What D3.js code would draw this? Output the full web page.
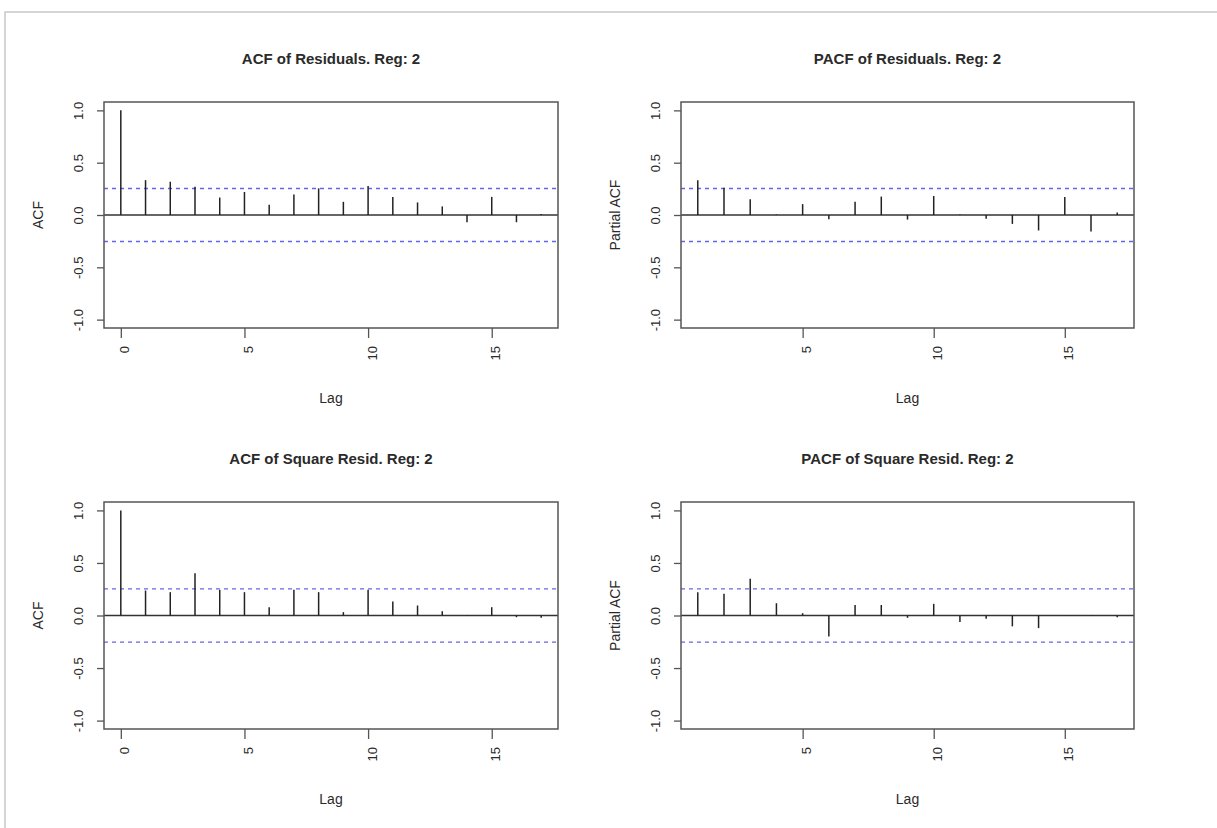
<!DOCTYPE html>
<html lang="en">
<head>
<meta charset="UTF-8">
<title>ACF / PACF of residuals</title>
<script src="https://d3js.org/d3.v7.min.js"></script>
<style>
  body { margin: 0; background: #fff; }
  text { font-family: "Liberation Sans", Arial, sans-serif; fill: #2a2a2a; }
</style>
</head>
<body>
<div id="fig"></div>
<script>
// values
let titles = ["ACF of Residuals. Reg: 2", "PACF of Residuals. Reg: 2",
              "ACF of Square Resid. Reg: 2", "PACF of Square Resid. Reg: 2"]
let ylabels = ["ACF", "Partial ACF", "ACF", "Partial ACF"]
let acfLags = d3.range(0, 18)
let pacfLags = d3.range(1, 18)
let acfResid = [1.0, 0.333, 0.318, 0.27, 0.167, 0.22, 0.097, 0.195, 0.255, 0.126, 0.277, 0.173, 0.12, 0.082, -0.069, 0.173, -0.069, 0.01]
let pacfResid = [0.333, 0.26, 0.15, 0.005, 0.104, -0.04, 0.126, 0.176, -0.044, 0.182, 0.004, -0.035, -0.085, -0.148, 0.173, -0.157, 0.025]
let acfSq = [1.0, 0.238, 0.222, 0.403, 0.244, 0.222, 0.079, 0.244, 0.222, 0.032, 0.244, 0.133, 0.095, 0.041, 0.005, 0.079, -0.016, -0.022]
let pacfSq = [0.222, 0.206, 0.349, 0.117, 0.022, -0.2, 0.1, 0.1, -0.022, 0.111, -0.063, -0.032, -0.103, -0.12, 0.003, -0.005, -0.016]
let confBand = 0.253
let yTicks = [-1.0, -0.5, 0.0, 0.5, 1.0]
let xTicksAcf = [0, 5, 10, 15]
let xTicksPacf = [5, 10, 15]

let W = 1217, H = 828
let svg = d3.select("#fig").append("svg").attr("width", W).attr("height", H)

// faint frame round the whole image
svg.append("path").attr("d", `M5,${H} L5,12 L${W},12`)
    .attr("fill", "none").attr("stroke", "#c8c8c8").attr("stroke-width", 1.5)

let panels = [
    {lags: acfLags, vals: acfResid, ticks: xTicksAcf, x0: 104, x1: 558, y0: 102, y1: 328},
    {lags: pacfLags, vals: pacfResid, ticks: xTicksPacf, x0: 681, x1: 1134, y0: 102, y1: 328},
    {lags: acfLags, vals: acfSq, ticks: xTicksAcf, x0: 104, x1: 558, y0: 502, y1: 729},
    {lags: pacfLags, vals: pacfSq, ticks: xTicksPacf, x0: 681, x1: 1134, y0: 502, y1: 729}
]

function drawPanel(p, i) {
    let lo = d3.min(p.lags), hi = d3.max(p.lags)
    let pad = (hi - lo) * 0.04
    let x = d3.scaleLinear().domain([lo - pad, hi + pad]).range([p.x0, p.x1])
    let y = d3.scaleLinear().domain([-1.08, 1.08]).range([p.y1, p.y0])
    let g = svg.append("g")

    // dashed confidence bands
    g.selectAll("line.band").data([confBand, -confBand]).join("line")
        .attr("x1", p.x0).attr("x2", p.x1)
        .attr("y1", d => y(d)).attr("y2", d => y(d))
        .attr("stroke", "#6464ea").attr("stroke-width", 1.4)
        .attr("stroke-dasharray", "4,4")

    // zero line
    g.append("line").attr("x1", p.x0).attr("x2", p.x1)
        .attr("y1", y(0)).attr("y2", y(0))
        .attr("stroke", "#333").attr("stroke-width", 1.3)

    // spikes
    g.selectAll("line.spike").data(p.lags).join("line")
        .attr("x1", d => x(d)).attr("x2", d => x(d))
        .attr("y1", y(0)).attr("y2", (d, k) => y(p.vals[k]))
        .attr("stroke", "#222").attr("stroke-width", 1.5)

    // box
    g.append("rect").attr("x", p.x0).attr("y", p.y0)
        .attr("width", p.x1 - p.x0).attr("height", p.y1 - p.y0)
        .attr("fill", "none").attr("stroke", "#555").attr("stroke-width", 1.5)

    // y axis
    let ya = g.append("g").attr("transform", `translate(${p.x0},0)`)
        .call(d3.axisLeft(y).tickValues(yTicks).tickSize(7).tickFormat(d => d.toFixed(1)))
    ya.select(".domain").remove()
    ya.selectAll(".tick line").attr("stroke", "#555").attr("stroke-width", 1.3)
    ya.selectAll(".tick text")
        .attr("transform", "rotate(-90)").attr("x", 0).attr("y", -21)
        .attr("dy", 0).attr("text-anchor", "middle")
        .style("font-size", "13px").style("font-family", "Liberation Sans, Arial, sans-serif")

    // x axis
    let xa = g.append("g").attr("transform", `translate(0,${p.y1})`)
        .call(d3.axisBottom(x).tickValues(p.ticks).tickSize(10).tickFormat(d3.format("d")))
    xa.select(".domain").remove()
    xa.selectAll(".tick line").attr("stroke", "#555").attr("stroke-width", 1.3)
    xa.selectAll(".tick text")
        .attr("transform", "rotate(-90)").attr("x", -18).attr("y", 8)
        .attr("dy", 0).attr("text-anchor", "end")
        .style("font-size", "13px").style("font-family", "Liberation Sans, Arial, sans-serif")

    let cx = (p.x0 + p.x1) / 2
    g.append("text").attr("x", cx).attr("y", p.y0 - 38)
        .attr("text-anchor", "middle").attr("font-weight", "bold")
        .attr("font-size", 15).text(titles[i])
    g.append("text").attr("x", cx).attr("y", p.y1 + 75)
        .attr("text-anchor", "middle").attr("font-size", 14).text("Lag")
    g.append("text")
        .attr("transform", `translate(${p.x0 - 61},${(p.y0 + p.y1) / 2}) rotate(-90)`)
        .attr("text-anchor", "middle").attr("font-size", 14).text(ylabels[i])
}

panels.forEach(drawPanel)
</script>
</body>
</html>
